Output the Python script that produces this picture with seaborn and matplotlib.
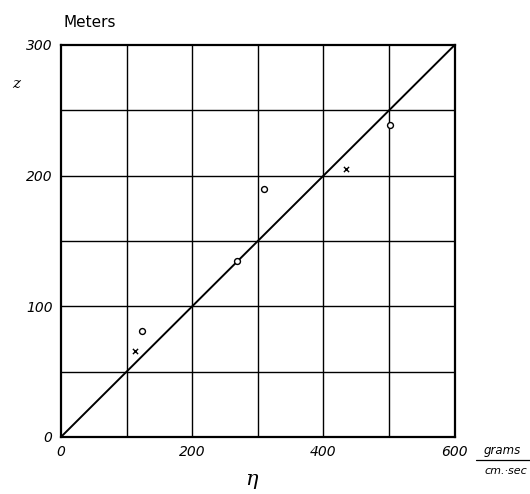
import numpy as np
import pandas as pd
import matplotlib
matplotlib.use("Agg")
import matplotlib.pyplot as plt
import seaborn as sns

# data
line_eta = [0, 600]
line_z = [0, 300]

circle_eta = [123, 269, 309, 501]
circle_z = [81, 135, 190, 239]

cross_eta = [113, 435]
cross_z = [66, 205]

x_ticks = [0, 200, 400, 600]
y_ticks = [0, 100, 200, 300]

sns.set_style("white")
plt.rcParams["font.family"] = ["DejaVu Sans"]
plt.rcParams["text.color"] = "black"
plt.rcParams["xtick.color"] = "black"
plt.rcParams["ytick.color"] = "black"

fig = plt.figure(figsize=(5.3, 4.94), dpi=100)
ax = fig.add_axes([0.115, 0.1154, 0.743, 0.7936])

#GRID
for gx in range(100, 600, 100):
    ax.axvline(gx, color="black", lw=1.0, zorder=1)
for gy in range(50, 300, 50):
    ax.axhline(gy, color="black", lw=1.0, zorder=1)

#DIAGONAL LINE
sns.lineplot(x=line_eta, y=line_z, color="black", lw=1.4, ax=ax, zorder=2)

#POINTS
circles = pd.DataFrame({"eta": circle_eta, "z": circle_z})
crosses = pd.DataFrame({"eta": cross_eta, "z": cross_z})
sns.scatterplot(data=circles, x="eta", y="z", marker="o", s=18,
                facecolor="white", edgecolor="black", linewidth=1.0, ax=ax, zorder=3)
sns.scatterplot(data=crosses, x="eta", y="z", marker="x", s=14,
                color="black", linewidth=1.0, ax=ax, zorder=3)

ax.set_xlim(0, 600)
ax.set_ylim(0, 300)
ax.set_xticks(x_ticks)
ax.set_yticks(y_ticks)
ax.set_xticklabels([str(t) for t in x_ticks], fontstyle="italic", fontsize=10, color="black")
ax.set_yticklabels([str(t) for t in y_ticks], fontstyle="italic", fontsize=10, color="black")
ax.tick_params(length=0, pad=6)
ax.set_xlabel("")
ax.set_ylabel("")
for sp in ax.spines.values():
    sp.set_color("black")
    sp.set_linewidth(1.6)

#LABELS
fig.text(0.17, 0.955, "Meters", fontsize=11, ha="center", va="center", color="black")
fig.text(0.03, 0.83, "z", fontsize=11, fontstyle="italic", family="DejaVu Serif",
         ha="center", va="center", color="black")
fig.text(0.475, 0.03, "η", fontsize=15, fontstyle="italic", family="DejaVu Serif",
         ha="center", va="center", color="black")
fig.text(0.947, 0.089, "grams", fontsize=8.5, fontstyle="italic", ha="center", va="center",
         color="black")
fig.add_artist(plt.Line2D([0.898, 1.0], [0.069, 0.069], color="black", lw=0.9))
fig.text(0.955, 0.047, "cm.·sec", fontsize=8, fontstyle="italic", ha="center", va="center",
         color="black")

plt.savefig("out.png", dpi=100)
